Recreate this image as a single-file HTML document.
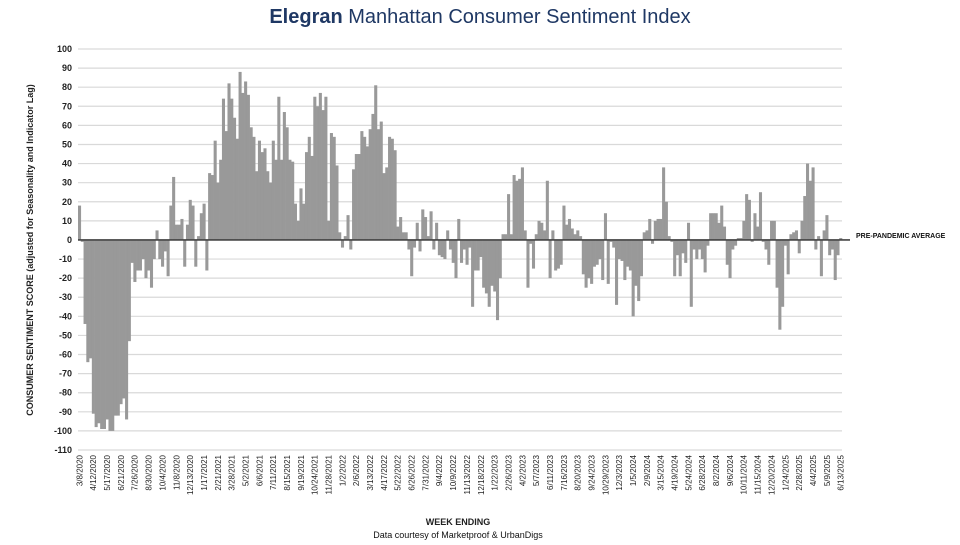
<!DOCTYPE html>
<html><head><meta charset="utf-8"><style>
body{margin:0;background:#fff;width:960px;height:540px;overflow:hidden;font-family:"Liberation Sans",sans-serif}
</style></head><body>
<svg id="chart" width="960" height="540" xmlns="http://www.w3.org/2000/svg">
<text x="480" y="23" text-anchor="middle" font-size="20" fill="#1f3864" font-family="Liberation Sans, sans-serif"><tspan font-weight="bold">Elegran</tspan> Manhattan Consumer Sentiment Index</text>
<g id="grid"></g>
<g id="yticks"></g>
<g id="bars"></g>
<g id="xticks"></g>
<text transform="translate(33,250) rotate(-90)" text-anchor="middle" font-size="9" font-weight="bold" fill="#222">CONSUMER SENTIMENT SCORE (adjusted for Seasonality and Indicator Lag)</text>
<text x="856" y="238" font-size="7" font-weight="bold" fill="#111">PRE-PANDEMIC  AVERAGE</text>
<text x="458" y="525" text-anchor="middle" font-size="9" font-weight="bold" fill="#222">WEEK ENDING</text>
<text x="458" y="538" text-anchor="middle" font-size="9" fill="#111">Data courtesy of Marketproof &amp; UrbanDigs</text>
</svg>
<script>
const values=[18,-1,-44,-64,-62,-91,-98,-96,-99,-99,-94,-100,-100,-92,-92,-86,-83,-94,-53,-12,-22,-16,-16,-10,-20,-16,-25,-10,5,-10,-14,-6,-19,18,33,8,8,11,-14,8,21,18,-14,2,14,19,-16,35,34,52,30,42,74,57,82,74,64,53,88,77,83,76,59,54,36,52,46,48,36,30,52,42,75,42,67,59,42,41,19,10,27,19,46,54,44,75,70,77,68,75,10,56,54,39,4,-4,2,13,-5,37,45,45,57,54,49,58,66,81,58,62,35,38,54,53,47,7,12,4,4,-5,-19,-4,9,-6,16,12,2,15,-5,9,-8,-9,-10,5,-5,-12,-20,11,-12,-5,-13,-4,-35,-16,-16,-9,-25,-28,-35,-24,-27,-42,-20,3,3,24,3,34,31,32,38,5,-25,-2,-15,3,10,9,5,31,-20,5,-16,-15,-13,18,8,11,6,3,5,2,-18,-25,-20,-23,-14,-13,-10,-21,14,-23,-1,-4,-34,-10,-11,-21,-14,-16,-40,-24,-32,-19,4,5,11,-2,10,11,11,38,20,2,-1,-19,-8,-19,-7,-12,9,-35,-5,-10,-5,-10,-17,-3,14,14,14,9,18,7,-13,-20,-5,-3,1,1,10,24,21,-1,14,7,25,-1,-5,-13,10,10,-25,-47,-35,-3,-18,3,4,5,-7,10,23,40,31,38,-5,2,-19,5,13,-8,-5,-21,-8,1];
const xLabels=["3/8/2020","4/12/2020","5/17/2020","6/21/2020","7/26/2020","8/30/2020","10/4/2020","11/8/2020","12/13/2020","1/17/2021","2/21/2021","3/28/2021","5/2/2021","6/6/2021","7/11/2021","8/15/2021","9/19/2021","10/24/2021","11/28/2021","1/2/2022","2/6/2022","3/13/2022","4/17/2022","5/22/2022","6/26/2022","7/31/2022","9/4/2022","10/9/2022","11/13/2022","12/18/2022","1/22/2023","2/26/2023","4/2/2023","5/7/2023","6/11/2023","7/16/2023","8/20/2023","9/24/2023","10/29/2023","12/3/2023","1/5/2024","2/9/2024","3/15/2024","4/19/2024","5/24/2024","6/28/2024","8/2/2024","9/6/2024","10/11/2024","11/15/2024","12/20/2024","1/24/2025","2/28/2025","4/4/2025","5/9/2025","6/13/2025"];
const yTicks=[100,90,80,70,60,50,40,30,20,10,0,-10,-20,-30,-40,-50,-60,-70,-80,-90,-100,-110];
const labelEvery=5;
const NS="http://www.w3.org/2000/svg";
const X0=78,X1=842,Y100=49,YM110=450;
const bw=(X1-X0)/values.length;
function y(v){return Y100+(100-v)*(YM110-Y100)/210;}
function x(i){return X0+i*bw;}
function mk(t,a,p){const e=document.createElementNS(NS,t);for(const k in a)e.setAttribute(k,a[k]);p.appendChild(e);return e;}
const grid=document.getElementById('grid'),yt=document.getElementById('yticks'),bars=document.getElementById('bars'),xt=document.getElementById('xticks');
yTicks.forEach(v=>{
 const l=mk('line',{x1:X0,x2:X1,y1:y(v),y2:y(v),stroke:'#d9d9d9','stroke-width':1.2},grid);
 
 
 const t=mk('text',{x:72,y:y(v)+3,'text-anchor':'end','font-size':9,'font-weight':'bold',fill:'#222'},yt);
 t.textContent=v;
 
 
});
values.forEach((v,i)=>{
 const r=mk('rect',{x:x(i),width:bw+0.3,y:Math.min(y(v),y(0)),height:Math.abs(y(v)-y(0)),fill:'#999'},bars);
 
 
});
const z=mk('line',{x1:X0,x2:X1+8,y1:y(0),y2:y(0),stroke:'#444','stroke-width':1.6},bars);


xLabels.forEach((s,k)=>{
 const cx=x(k*labelEvery)+bw/2;
 const t=mk('text',{transform:`translate(${cx+3},455) rotate(-90)`,'text-anchor':'end','font-size':8,fill:'#222'},xt);
 t.textContent=s;
 
 
});
</script>
</body></html>
